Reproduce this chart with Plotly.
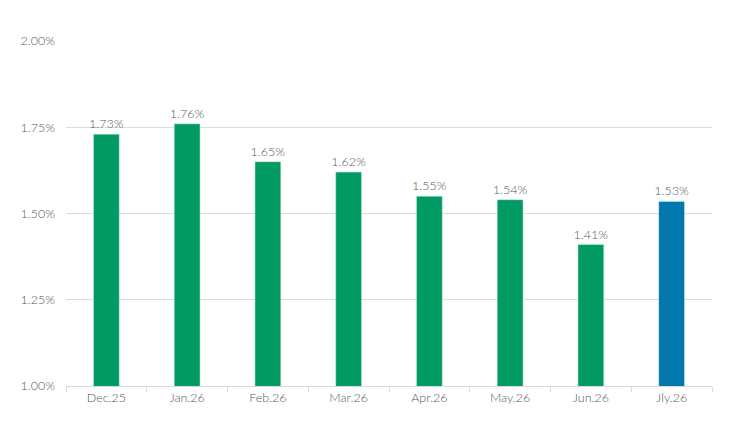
import plotly.graph_objects as go

months = ["Dec.25", "Jan.26", "Feb.26", "Mar.26", "Apr.26", "May.26", "Jun.26", "Jly.26"]
rates = [1.73, 1.76, 1.65, 1.62, 1.55, 1.54, 1.41, 1.535]
rate_labels = ["1.73%", "1.76%", "1.65%", "1.62%", "1.55%", "1.54%", "1.41%", "1.53%"]
tick_vals = [1.00, 1.25, 1.50, 1.75, 2.00]
tick_text = ["1.00%", "1.25%", "1.50%", "1.75%", "2.00%"]

green = "#009A62"
blue = "#0077AD"
colors = [green] * (len(months) - 1) + [blue]

fig = go.Figure()
fig.add_trace(go.Bar(
    x=months,
    y=rates,
    text=rate_labels,
    textposition="outside",
    constraintext="none",
    textfont=dict(size=12.5, color="#595959", weight=300),
    cliponaxis=False,
    marker=dict(color=colors, line=dict(color="#d8f0e6", width=0.5)),
    width=0.32,
    base=0,
))

fig.update_layout(
    width=741,
    height=437,
    margin=dict(l=58, r=37, t=33, b=59),
    plot_bgcolor="white",
    paper_bgcolor="white",
    font=dict(family="Lato, sans-serif", size=12.5, color="#595959", weight=300),
    showlegend=False,
)
fig.update_yaxes(
    range=[1.0, 2.0],
    tickvals=tick_vals,
    ticktext=tick_text,
    showgrid=True,
    gridcolor="#dcdcdc",
    gridwidth=1,
    zeroline=False,
    ticks="",
    ticklabelstandoff=10,
)
fig.update_xaxes(
    showline=True,
    linecolor="#d9d9d9",
    linewidth=1,
    ticks="outside",
    tickson="boundaries",
    ticklen=5,
    tickcolor="#d9d9d9",
    showgrid=False,
)

fig.write_html("out.html")
